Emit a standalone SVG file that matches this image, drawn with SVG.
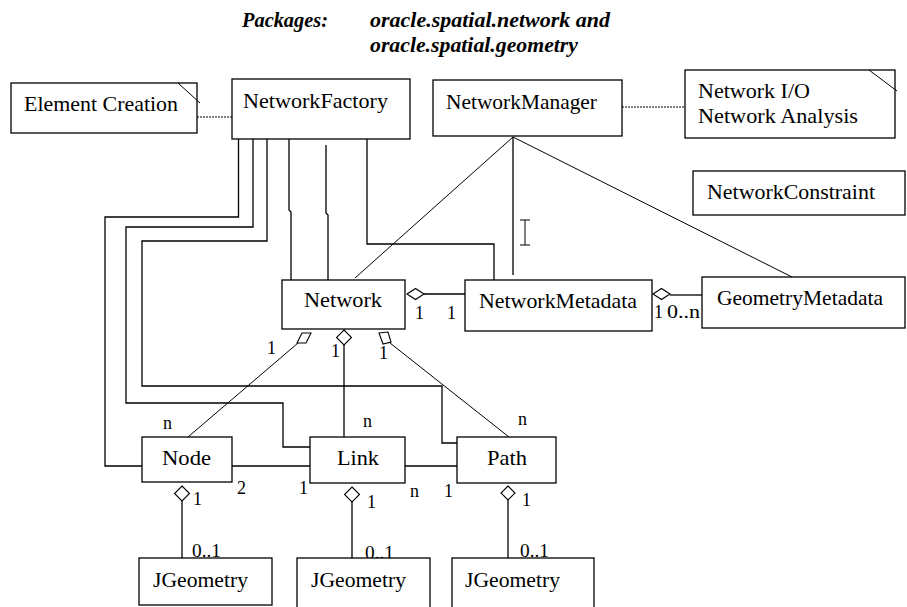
<svg xmlns="http://www.w3.org/2000/svg" width="907" height="607" viewBox="0 0 907 607">
<style>
.box{fill:#fff;stroke:#000;stroke-width:1.3}
text{font-family:'Liberation Serif','DejaVu Serif',serif;fill:#000}
.t{font-size:22px}
.lbl{font-size:18px}
.title{font-size:21px;font-weight:bold;font-style:italic}
.ln{fill:none;stroke:#000;stroke-width:1.3}
.thin{fill:none;stroke:#000;stroke-width:1}
.dot{fill:none;stroke:#000;stroke-width:1.2;stroke-dasharray:2,1}
.dia{fill:#fff;stroke:#000;stroke-width:1.1}
</style>
<rect width="907" height="607" fill="#fff"/>
<g id="title">
<text class="title" font-family="Liberation Serif, DejaVu Serif, serif" x="242" y="27" textLength="86" lengthAdjust="spacingAndGlyphs">Packages:</text>
<text class="title" font-family="Liberation Serif, DejaVu Serif, serif" x="370" y="27" textLength="240" lengthAdjust="spacingAndGlyphs">oracle.spatial.network and</text>
<text class="title" font-family="Liberation Serif, DejaVu Serif, serif" x="370" y="52" textLength="208" lengthAdjust="spacingAndGlyphs">oracle.spatial.geometry</text>
</g>
<g id="connectors">
<line class="dot" x1="197" y1="117" x2="232" y2="117"/>
<line class="dot" x1="622" y1="107" x2="685" y2="107"/>
<polyline class="ln" points="238.5,139 238.5,217 105,217 105,466 142,466"/>
<polyline class="ln" points="253,139 253,227 126,227 126,403 283,403 283,447 310,447"/>
<polyline class="ln" points="267,139 267,241 142,241 142,386 442,386 442,443 457,443"/>
<polyline class="ln" points="289,139 289,210 291,212 291,280"/>
<polyline class="ln" points="326,145 326,213 328,215 328,280"/>
<polyline class="ln" points="367,139 367,244 494,244 494,280"/>
<line class="thin" x1="513" y1="137" x2="355" y2="278"/>
<line class="ln" x1="513" y1="137" x2="513" y2="275"/>
<line class="thin" x1="513" y1="137" x2="792" y2="277"/>
<line class="ln" x1="424" y1="294" x2="465" y2="294"/>
<line class="ln" x1="670" y1="295" x2="702" y2="295"/>
<line class="thin" x1="298" y1="343" x2="188" y2="437"/>
<line class="ln" x1="344" y1="345" x2="344" y2="437"/>
<line class="thin" x1="390" y1="343" x2="509" y2="437"/>
<line class="ln" x1="232" y1="466" x2="312" y2="466"/>
<line class="ln" x1="405" y1="466" x2="457" y2="466"/>
<line class="ln" x1="182" y1="501" x2="182" y2="558"/>
<line class="ln" x1="352" y1="502" x2="352" y2="558"/>
<line class="ln" x1="508" y1="500" x2="508" y2="558"/>
<polygon class="dia" points="407,294 415.5,288.5 424,294 415.5,299.5"/>
<polygon class="dia" points="653,294 661.5,288.5 670,294 661.5,299.5"/>
<polygon class="dia" points="344,330 351.5,337.5 344,345 336.5,337.5"/>
<polygon class="dia" points="297,343 302,333 311,333 306,343"/>
<polygon class="dia" points="379,333 388,332 391,342 383,344"/>
<polygon class="dia" points="182,486 189.5,493.5 182,501 174.5,493.5"/>
<polygon class="dia" points="352,487 359.5,494.5 352,502 344.5,494.5"/>
<polygon class="dia" points="508,486 515,493 508,500 501,493"/>
<g id="cursor" class="thin">
<line x1="525" y1="220" x2="525" y2="245"/>
<line x1="520" y1="220" x2="530" y2="220"/>
<line x1="520" y1="245" x2="530" y2="245"/>
</g>
</g>
<g id="labels" font-family="Liberation Serif, DejaVu Serif, serif">
<text class="lbl" x="415" y="319">1</text>
<text class="lbl" x="447" y="319">1</text>
<text class="lbl" x="654" y="318">1</text>
<text class="lbl" x="667" y="318" textLength="33" lengthAdjust="spacingAndGlyphs">0..n</text>
<text class="lbl" x="267" y="354">1</text>
<text class="lbl" x="331" y="357">1</text>
<text class="lbl" x="379" y="359">1</text>
<text class="lbl" x="163" y="429">n</text>
<text class="lbl" x="363" y="427">n</text>
<text class="lbl" x="518" y="425">n</text>
<text class="lbl" x="237" y="494">2</text>
<text class="lbl" x="299" y="494">1</text>
<text class="lbl" x="410" y="497">n</text>
<text class="lbl" x="444" y="497">1</text>
<text class="lbl" x="193" y="505">1</text>
<text class="lbl" x="367" y="508">1</text>
<text class="lbl" x="522" y="506">1</text>
<text class="lbl" x="192" y="557" textLength="29" lengthAdjust="spacingAndGlyphs">0..1</text>
<text class="lbl" x="365" y="559" textLength="29" lengthAdjust="spacingAndGlyphs">0..1</text>
<text class="lbl" x="520" y="557" textLength="29" lengthAdjust="spacingAndGlyphs">0..1</text>
</g>
<g id="note-element-creation" font-family="Liberation Serif, DejaVu Serif, serif">
<rect class="box" x="11" y="83" width="186" height="50"/>
<line class="thin" x1="178" y1="83" x2="200" y2="103"/>
<text class="t" x="24" y="111" textLength="154" lengthAdjust="spacingAndGlyphs">Element Creation</text>
</g>
<g id="NetworkFactory" font-family="Liberation Serif, DejaVu Serif, serif">
<rect class="box" x="232" y="79" width="178" height="60"/>
<text class="t" x="243" y="108" textLength="145" lengthAdjust="spacingAndGlyphs">NetworkFactory</text>
</g>
<g id="NetworkManager" font-family="Liberation Serif, DejaVu Serif, serif">
<rect class="box" x="433" y="80" width="189" height="56"/>
<text class="t" x="446" y="109" textLength="151" lengthAdjust="spacingAndGlyphs">NetworkManager</text>
</g>
<g id="note-network-io" font-family="Liberation Serif, DejaVu Serif, serif">
<rect class="box" x="685" y="70" width="210" height="68"/>
<line class="thin" x1="869" y1="70" x2="897" y2="91"/>
<text class="t" x="698" y="98" textLength="112" lengthAdjust="spacingAndGlyphs">Network I/O</text>
<text class="t" x="698" y="123" textLength="160" lengthAdjust="spacingAndGlyphs">Network Analysis</text>
</g>
<g id="NetworkConstraint" font-family="Liberation Serif, DejaVu Serif, serif">
<rect class="box" x="693" y="171" width="212" height="44"/>
<text class="t" x="707" y="199" textLength="168" lengthAdjust="spacingAndGlyphs">NetworkConstraint</text>
</g>
<g id="Network" font-family="Liberation Serif, DejaVu Serif, serif">
<rect class="box" x="282" y="280" width="123" height="49"/>
<text class="t" x="304" y="307" textLength="78" lengthAdjust="spacingAndGlyphs">Network</text>
</g>
<g id="NetworkMetadata" font-family="Liberation Serif, DejaVu Serif, serif">
<rect class="box" x="465" y="280" width="187" height="51"/>
<text class="t" x="479" y="308" textLength="158" lengthAdjust="spacingAndGlyphs">NetworkMetadata</text>
</g>
<g id="GeometryMetadata" font-family="Liberation Serif, DejaVu Serif, serif">
<rect class="box" x="702" y="277" width="203" height="51"/>
<text class="t" x="717" y="305" textLength="166" lengthAdjust="spacingAndGlyphs">GeometryMetadata</text>
</g>
<g id="Node" font-family="Liberation Serif, DejaVu Serif, serif">
<rect class="box" x="142" y="437" width="90" height="45"/>
<text class="t" x="162" y="465" textLength="49" lengthAdjust="spacingAndGlyphs">Node</text>
</g>
<g id="Link" font-family="Liberation Serif, DejaVu Serif, serif">
<rect class="box" x="310" y="437" width="95" height="46"/>
<text class="t" x="337" y="465" textLength="42" lengthAdjust="spacingAndGlyphs">Link</text>
</g>
<g id="Path" font-family="Liberation Serif, DejaVu Serif, serif">
<rect class="box" x="457" y="437" width="99" height="46"/>
<text class="t" x="487" y="465" textLength="40" lengthAdjust="spacingAndGlyphs">Path</text>
</g>
<g id="JGeometry-node" font-family="Liberation Serif, DejaVu Serif, serif">
<rect class="box" x="139" y="558" width="133" height="47"/>
<text class="t" x="153" y="587" textLength="95" lengthAdjust="spacingAndGlyphs">JGeometry</text>
</g>
<g id="JGeometry-link" font-family="Liberation Serif, DejaVu Serif, serif">
<rect class="box" x="297" y="558" width="133" height="55"/>
<text class="t" x="311" y="587" textLength="95" lengthAdjust="spacingAndGlyphs">JGeometry</text>
</g>
<g id="JGeometry-path" font-family="Liberation Serif, DejaVu Serif, serif">
<rect class="box" x="452" y="558" width="142" height="55"/>
<text class="t" x="465" y="587" textLength="95" lengthAdjust="spacingAndGlyphs">JGeometry</text>
</g>
</svg>
